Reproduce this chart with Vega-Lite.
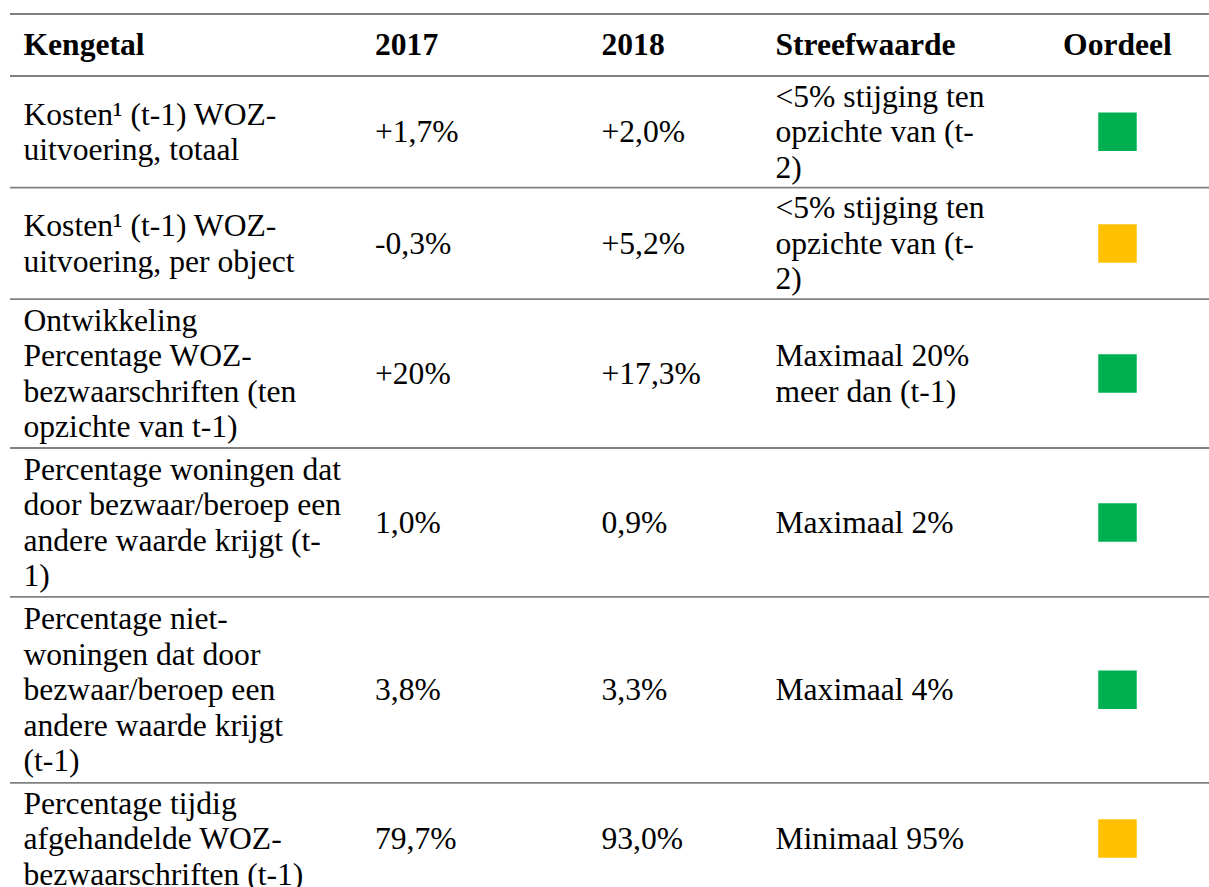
{
  "$schema": "https://vega.github.io/schema/vega-lite/v6.json",
  "width": 1199,
  "height": 887,
  "autosize": {"type": "none"},
  "padding": {"left": 10, "right": 0, "top": 0, "bottom": 0},
  "background": "white",
  "config": {
    "view": {"stroke": null},
    "text": {"font": "Liberation Serif", "fontSize": 31.6, "lineHeight": 35.6, "lineBreak": "\n", "color": "#000000", "baseline": "middle", "align": "left", "dy": 1.5}
  },
  "data": {
    "values": [
      {"row": 0, "h": 1.667, "Kengetal": "Kengetal", "y2017": "2017", "y2018": "2018", "Streefwaarde": "Streefwaarde", "Oordeel": "Oordeel"},
      {"row": 1, "h": 3, "Kengetal": "Kosten¹ (t-1) WOZ-\nuitvoering, totaal", "y2017": "+1,7%", "y2018": "+2,0%", "Streefwaarde": "<5% stijging ten\nopzichte van (t-\n2)", "Oordeel": "groen"},
      {"row": 2, "h": 3, "Kengetal": "Kosten¹ (t-1) WOZ-\nuitvoering, per object", "y2017": "-0,3%", "y2018": "+5,2%", "Streefwaarde": "<5% stijging ten\nopzichte van (t-\n2)", "Oordeel": "oranje"},
      {"row": 3, "h": 4, "Kengetal": "Ontwikkeling\nPercentage WOZ-\nbezwaarschriften (ten\nopzichte van t-1)", "y2017": "+20%", "y2018": "+17,3%", "Streefwaarde": "Maximaal 20%\nmeer dan (t-1)", "Oordeel": "groen"},
      {"row": 4, "h": 4, "Kengetal": "Percentage woningen dat\ndoor bezwaar/beroep een\nandere waarde krijgt (t-\n1)", "y2017": "1,0%", "y2018": "0,9%", "Streefwaarde": "Maximaal 2%", "Oordeel": "groen"},
      {"row": 5, "h": 5, "Kengetal": "Percentage niet-\nwoningen dat door\nbezwaar/beroep een\nandere waarde krijgt\n(t-1)", "y2017": "3,8%", "y2018": "3,3%", "Streefwaarde": "Maximaal 4%", "Oordeel": "groen"},
      {"row": 6, "h": 3, "Kengetal": "Percentage tijdig\nafgehandelde WOZ-\nbezwaarschriften (t-1)", "y2017": "79,7%", "y2018": "93,0%", "Streefwaarde": "Minimaal 95%", "Oordeel": "oranje"}
    ]
  },
  "transform": [
    {"stack": "h", "groupby": [], "sort": [{"field": "row", "order": "ascending"}], "as": ["y0", "y1"]},
    {"calculate": "(datum.y0 + datum.y1) / 2", "as": "mid"}
  ],
  "layer": [
    {
      "mark": {"type": "rule", "color": "#808080", "strokeWidth": 1.8},
      "encoding": {
        "y": {"field": "y0", "type": "quantitative", "scale": {"domain": [-0.376, 23.468], "reverse": true, "nice": false, "zero": false}, "axis": null}
      }
    },
    {
      "mark": {"type": "text", "fontWeight": {"expr": "datum.row === 0 ? 'bold' : 'normal'"}, "dy": {"expr": "1.5 - (length(split(datum.Kengetal, '\\n')) - 1) * 17.8"}},
      "encoding": {
        "x": {"datum": 0, "type": "quantitative", "scale": {"domain": [0, 1, 2, 3, 4], "range": [13.5, 365, 591.5, 765.5, 1107.5]}, "axis": null},
        "y": {"field": "mid", "type": "quantitative"},
        "text": {"field": "Kengetal"}
      }
    },
    {
      "mark": {"type": "text", "fontWeight": {"expr": "datum.row === 0 ? 'bold' : 'normal'"}},
      "encoding": {
        "x": {"datum": 1, "type": "quantitative"},
        "y": {"field": "mid", "type": "quantitative"},
        "text": {"field": "y2017"}
      }
    },
    {
      "mark": {"type": "text", "fontWeight": {"expr": "datum.row === 0 ? 'bold' : 'normal'"}},
      "encoding": {
        "x": {"datum": 2, "type": "quantitative"},
        "y": {"field": "mid", "type": "quantitative"},
        "text": {"field": "y2018"}
      }
    },
    {
      "mark": {"type": "text", "fontWeight": {"expr": "datum.row === 0 ? 'bold' : 'normal'"}, "dy": {"expr": "1.5 - (length(split(datum.Streefwaarde, '\\n')) - 1) * 17.8"}},
      "encoding": {
        "x": {"datum": 3, "type": "quantitative"},
        "y": {"field": "mid", "type": "quantitative"},
        "text": {"field": "Streefwaarde"}
      }
    },
    {
      "transform": [{"filter": "datum.row === 0"}],
      "mark": {"type": "text", "fontWeight": "bold", "align": "center"},
      "encoding": {
        "x": {"datum": 4, "type": "quantitative"},
        "y": {"field": "mid", "type": "quantitative"},
        "text": {"field": "Oordeel"}
      }
    },
    {
      "transform": [{"filter": "datum.row > 0"}],
      "mark": {"type": "point", "shape": "square", "filled": true, "size": 1482, "opacity": 1, "strokeWidth": 0},
      "encoding": {
        "x": {"datum": 4, "type": "quantitative"},
        "y": {"field": "mid", "type": "quantitative"},
        "color": {"field": "Oordeel", "type": "nominal", "scale": {"domain": ["groen", "oranje"], "range": ["#00B050", "#FFC000"]}, "legend": null}
      }
    }
  ]
}
